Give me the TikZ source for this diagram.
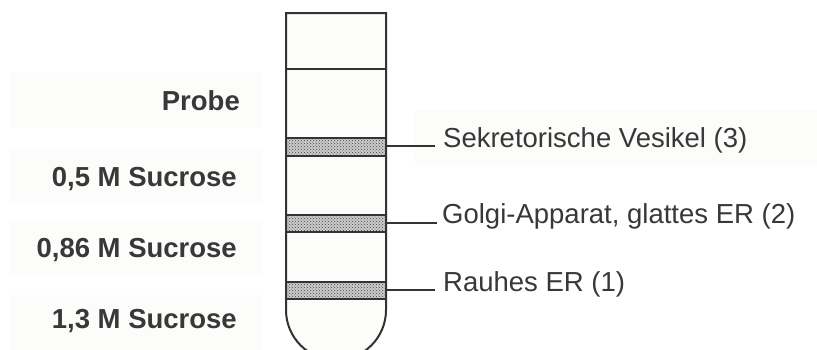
\documentclass[tikz,border=0pt]{standalone}
\usepackage{fontspec}
\setmainfont{Liberation Sans}
\usetikzlibrary{patterns}
\definecolor{txt}{HTML}{383838}
\definecolor{bgbox}{HTML}{FCFCFA}
\definecolor{ln}{HTML}{333333}
\tikzset{
  lbox/.style={fill=bgbox, draw=none},
  lefttxt/.style={anchor=base east, inner sep=0pt, text=txt, font=\fontsize{27.5}{32}\selectfont\bfseries},
  righttxt/.style={anchor=base west, inner sep=0pt, text=txt, font=\fontsize{27.5}{32}\selectfont},
  wall/.style={draw=ln, line width=2pt},
  bandbase/.style={fill=gray!40},
  bandfill/.style={pattern=crosshatch dots, pattern color=black!75},
  leader/.style={draw=ln, line width=1.8pt}
}
\begin{document}
\begin{tikzpicture}[x=1pt,y=-1pt]
\useasboundingbox (0,0) rectangle (817,349);
\clip (0,0) rectangle (817,349);
\fill[white] (0,0) rectangle (817,349);
% label background boxes
\path[lbox] (10,73) rectangle (262,128);
\path[lbox] (10,148) rectangle (262,203);
\path[lbox] (10,220) rectangle (262,275);
\path[lbox] (10,295) rectangle (262,360);
\path[lbox] (415,110) rectangle (817,165);
% left labels
\node[lefttxt] (probe) at (240,110) {Probe};
\node[lefttxt] (s05) at (237,186) {0,5 M Sucrose};
\node[lefttxt] (s086) at (237,257) {0,86 M Sucrose};
\node[lefttxt] (s13) at (237,328) {1,3 M Sucrose};
% tube
\path[fill=bgbox] (286,13) -- (386,13) -- (386,310) arc[start angle=0,end angle=-180,radius=50pt] -- cycle;
% bands
\path[bandbase] (286,138) rectangle (386,156);
\path[bandbase] (286,215) rectangle (386,232);
\path[bandbase] (286,282) rectangle (386,299);
\path[bandfill] (286,138) rectangle (386,156);
\path[bandfill] (286,215) rectangle (386,232);
\path[bandfill] (286,282) rectangle (386,299);
\draw[wall] (286,138) -- (386,138) (286,156) -- (386,156);
\draw[wall] (286,215) -- (386,215) (286,232) -- (386,232);
\draw[wall] (286,282) -- (386,282) (286,299) -- (386,299);
\draw[wall] (286,69) -- (386,69);
\draw[wall] (286,13) -- (386,13) -- (386,310) arc[start angle=0,end angle=-180,radius=50pt] -- cycle;
% leader coordinates
\coordinate (b3) at (387,146);
\coordinate (e3) at (435,146);
\coordinate (b2) at (387,223);
\coordinate (e2) at (437,223);
\coordinate (b1) at (387,290);
\coordinate (e1) at (435,290);
\draw[leader] (b3) -- (e3);
\draw[leader] (b2) -- (e2);
\draw[leader] (b1) -- (e1);
% right labels
\node[righttxt] (l3) at (443,147) {Sekretorische Vesikel (3)};
\node[righttxt] (l2) at (442,223) {Golgi-Apparat, glattes ER\ (2)};
\node[righttxt] (l1) at (443,291) {Rauhes ER (1)};
\end{tikzpicture}
\end{document}
